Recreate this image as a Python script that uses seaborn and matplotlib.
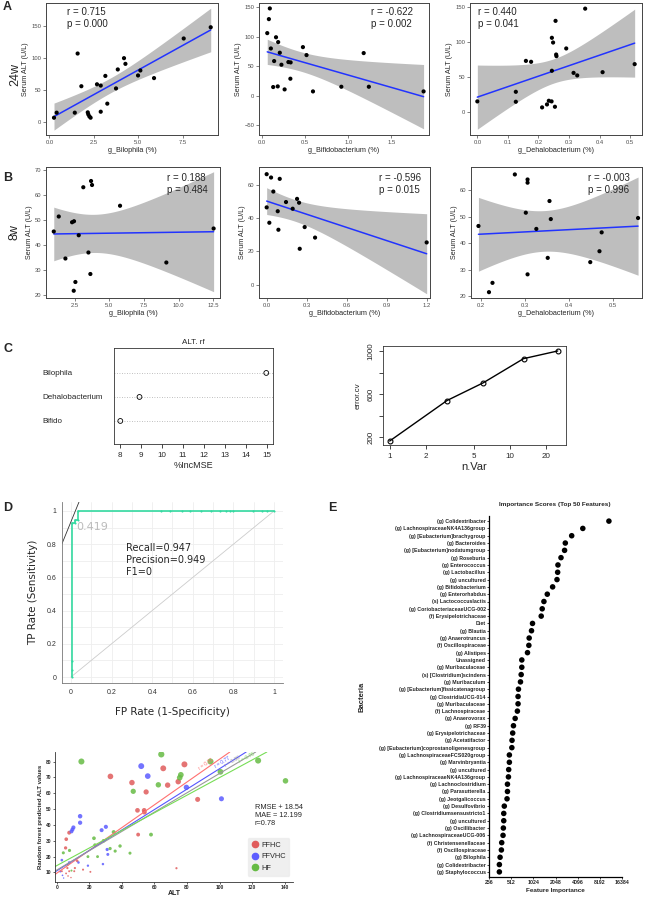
import numpy as np
import pandas as pd
import matplotlib
matplotlib.use("Agg")
import matplotlib.pyplot as plt
from matplotlib.lines import Line2D
from matplotlib.ticker import FormatStrFormatter, NullLocator
import seaborn as sns

sns.set_style("white")
plt.rcParams["font.family"] = ["Liberation Sans", "DejaVu Sans"]

# ---------------- data ----------------
# A / B: genus abundance (%) vs serum ALT
bilo24_x = [0.26, 0.41, 1.43, 1.59, 1.80, 2.16, 2.19, 2.25, 2.32, 2.68, 2.89, 2.89, 3.15, 3.26, 3.75, 3.85, 4.20, 4.28, 4.99, 5.12, 5.89, 7.56, 9.08]
bilo24_y = [7.2, 15.0, 15.0, 106.7, 56.0, 15.5, 12.4, 9.3, 7.2, 59.0, 57.0, 16.5, 72.0, 29.0, 52.6, 82.0, 99.5, 90.7, 72.7, 80.4, 68.6, 130.0, 147.4]
bifi24_x = [0.058, 0.077, 0.088, 0.100, 0.138, 0.160, 0.185, 0.204, 0.223, 0.127, 0.180, 0.304, 0.330, 0.327, 0.260, 0.473, 0.515, 0.590, 0.920, 1.180, 1.240, 1.877]
bifi24_y = [106.0, 129.7, 147.8, 80.0, 58.7, 99.0, 90.8, 72.8, 52.5, 14.7, 15.8, 57.0, 56.4, 28.8, 10.7, 82.3, 68.8, 7.3, 15.2, 72.2, 15.2, 7.3]
deha24_x = [0.000, 0.126, 0.126, 0.159, 0.176, 0.212, 0.228, 0.234, 0.243, 0.244, 0.244, 0.248, 0.254, 0.256, 0.258, 0.259, 0.291, 0.315, 0.327, 0.353, 0.410, 0.515]
deha24_y = [15.6, 29.2, 15.1, 73.0, 71.7, 7.1, 11.3, 16.5, 15.6, 59.0, 105.7, 99.0, 8.0, 129.7, 82.0, 79.7, 90.6, 56.0, 52.4, 147.0, 57.0, 68.4]
bilo8_x = [0.99, 1.35, 1.83, 2.31, 2.45, 2.79, 2.43, 2.55, 3.12, 3.49, 3.63, 3.68, 3.75, 5.77, 9.11, 12.52]
bilo8_y = [45.4, 51.4, 34.6, 49.1, 49.5, 43.9, 21.7, 25.2, 63.1, 37.0, 28.4, 65.6, 64.0, 55.7, 33.0, 46.6]
bifi8_x = [0.000, 0.020, 0.050, 0.083, 0.088, 0.145, 0.195, 0.228, 0.243, 0.248, 0.285, 0.363, 1.200, 0.000, 0.033, 0.098]
bifi8_y = [46.4, 37.2, 55.9, 44.1, 33.0, 49.6, 45.6, 51.5, 49.2, 21.6, 34.6, 28.3, 25.4, 66.3, 64.3, 63.5]
deha8_x = [0.194, 0.218, 0.226, 0.302, 0.306, 0.277, 0.306, 0.306, 0.326, 0.352, 0.356, 0.359, 0.449, 0.470, 0.475, 0.558]
deha8_y = [46.5, 21.6, 25.1, 51.5, 28.3, 65.9, 64.0, 62.8, 45.4, 34.5, 55.9, 49.1, 32.9, 37.0, 44.1, 49.5]
corr_xlabels = ["g_Bilophila (%)", "g_Bifidobacterium (%)", "g_Dehalobacterium (%)"] * 2
corr_r = ["0.715", "-0.622", "0.440", "0.188", "-0.596", "-0.003"]
corr_p = ["0.000", "0.002", "0.041", "0.484", "0.015", "0.996"]

# C: rf importance and rfcv
imp_names = ["Bifido", "Dehalobacterium", "Bilophila"]
imp_vals = [8.02, 8.93, 14.95]
nvar = [1, 3, 6, 13, 25]
error_cv = [166, 541, 705, 929, 1000]

# D: ROC
roc_fpr = [0.007, 0.007, 0.007, 0.007, 0.02, 0.02, 0.033, 0.033, 0.443, 0.488, 0.547, 0.586, 0.64, 0.688, 0.734, 0.762, 0.783, 0.80, 0.898, 0.94, 0.964, 1.0]
roc_tpr = [0.0, 0.04, 0.095, 0.93, 0.93, 0.947, 0.947, 1.0, 1.0, 1.0, 1.0, 1.0, 1.0, 1.0, 1.0, 1.0, 1.0, 1.0, 1.0, 1.0, 1.0, 1.0]
tangent_b, tangent_m = 0.935, 3.0

# D: predicted vs observed ALT
ffhc_alt = [73.5, 78.4, 65.4, 33.0, 46.2, 54.9, 68.1, 74.6, 49.6, 53.7, 53.9, 50.0, 86.5, 12.6, 16.2, 20.7, 7.7, 5.9, 5.5, 3.2, 5.8, 7.0, 8.8, 10.8, 11.2, 7.7, 6.6]
ffhc_pred = [12.7, 78.2, 75.7, 70.6, 66.7, 60.8, 65.1, 67.3, 49.2, 49.2, 48.0, 33.9, 56.1, 17.3, 11.8, 10.4, 35.1, 31.0, 25.5, 10.8, 9.4, 7.8, 6.8, 10.8, 12.8, 10.8, 12.8]
ffvhc_alt = [51.9, 55.9, 79.6, 101.1, 14.4, 14.4, 10.3, 9.7, 9.1, 30.2, 27.6, 31.0, 31.4, 28.4, 19.2, 3.2, 7.7, 3.6, 4.3, 13.4, 2.2]
ffvhc_pred = [77.1, 70.8, 63.7, 56.5, 45.5, 41.4, 38.4, 37.1, 35.9, 38.8, 36.7, 24.5, 21.4, 15.3, 14.3, 17.8, 16.3, 8.2, 6.5, 16.3, 10.6]
hf_alt = [15.2, 64.2, 47.0, 62.4, 76.2, 75.5, 94.4, 100.5, 123.6, 140.4, 57.9, 38.9, 35.9, 35.0, 32.8, 22.9, 19.2, 25.1, 45.0, 7.9, 6.7, 4.1, 9.1, 28.8, 23.5]
hf_pred = [80.0, 84.5, 61.2, 65.3, 71.6, 69.8, 80.0, 73.5, 80.6, 67.8, 33.9, 26.7, 23.5, 35.5, 25.1, 31.6, 20.0, 20.0, 22.2, 23.9, 14.9, 22.4, 11.2, 30.0, 27.3]
groups = ["FFHC", "FFVHC", "HF"]
fit_names = ["FFHC", "FFVHC", "all", "HF"]
fit_intercepts = [9.5, 11.0, 11.5, 14.3]
fit_slopes = [0.72, 0.645, 0.61, 0.556]
fit_r = ["r = 0.81", "r = 0.77", "r = 0.80", "r = 0.76"]
fit_label_x = [88, 98, 104, 113]

# E: importance scores
feat_names = ["(g) Colidextribacter", "(g) LachnospiraceaeNK4A136group", "(g) [Eubacterium]brachygroup",
              "(g) Bacteroides", "(g) [Eubacterium]nodatumgroup", "(g) Roseburia", "(g) Enterococcus",
              "(g) Lactobacillus", "(g) uncultured", "(g) Bifidobacterium", "(g) Enterorhabdus",
              "(s) Lactococcuslactis", "(g) CoriobacteriaceaeUCG-002", "(f) Erysipelotrichaceae", "Diet",
              "(g) Blautia", "(g) Anaerotruncus", "(f) Oscillospiraceae", "(g) Alistipes", "Unassigned",
              "(g) Muribaculaceae", "(s) [Clostridium]scindens", "(g) Muribaculum",
              "(g) [Eubacterium]fissicatenagroup", "(g) ClostridiaUCG-014", "(g) Muribaculaceae",
              "(f) Lachnospiraceae", "(g) Anaerovorax", "(g) RF39", "(g) Erysipelotrichaceae",
              "(g) Acetatifactor", "(g) [Eubacterium]coprostanoligenesgroup", "(g) LachnospiraceaeFCS020group",
              "(g) Marvinbryantia", "(g) uncultured", "(g) LachnospiraceaeNK4A136group", "(g) Lachnoclostridium",
              "(g) Parasutterella", "(g) Jeotgalicoccus", "(g) Desulfovibrio", "(g) Clostridiumsensustricto1",
              "(g) uncultured", "(g) Oscillibacter", "(g) LachnospiraceaeUCG-006", "(f) Christensenellaceae",
              "(f) Oscillospiraceae", "(g) Bilophila", "(g) Colidextribacter", "(g) Staphylococcus"]
feat_imp = [10880, 4810, 3398, 2783, 2720, 2432, 2211, 2190, 2146, 1872, 1584, 1426, 1351, 1310, 998,
            967, 899, 890, 853, 714, 714, 700, 685, 643, 635, 635, 622, 580, 550, 537, 526, 523, 484,
            484, 474, 470, 456, 456, 450, 413, 406, 406, 401, 397, 381, 377, 362, 354, 354]

# t quantiles (0.975) for the lm confidence band
T975 = {14: 2.145, 20: 2.086, 21: 2.080}

# ---------------- figure ----------------
W, H = 647, 899
fig = plt.figure(figsize=(W / 100, H / 100), dpi=100)


def add_ax(l, t, r, b):
    return fig.add_axes([l / W, 1 - b / H, (r - l) / W, (b - t) / H])


def ftext(x, y, s, **kw):
    fig.text(x / W, 1 - y / H, s, **kw)


def lm_band(ax, x, y):
    # ggplot-style geom_smooth(method = "lm") confidence band
    x = np.asarray(x, float)
    y = np.asarray(y, float)
    n = len(x)
    b, a = np.polyfit(x, y, 1)
    resid = y - (a + b * x)
    s = np.sqrt(np.sum(resid ** 2) / (n - 2))
    xs = np.linspace(x.min(), x.max(), 100)
    se = s * np.sqrt(1 / n + (xs - x.mean()) ** 2 / np.sum((x - x.mean()) ** 2))
    fit = a + b * xs
    t = T975.get(n - 2, 2.1)
    ax.fill_between(xs, fit - t * se, fit + t * se, color="#bebebe", lw=0, zorder=1)


# A / B correlation panels
corr_x = [bilo24_x, bifi24_x, deha24_x, bilo8_x, bifi8_x, deha8_x]
corr_y = [bilo24_y, bifi24_y, deha24_y, bilo8_y, bifi8_y, deha8_y]
boxes = [(46, 3, 218, 135), (259, 3, 429, 135), (470, 3, 642, 135),
         (46, 167, 220, 298), (259, 167, 430, 298), (471, 167, 642, 298)]
xlims = [(-0.19, 9.49), (-0.038, 1.94), (-0.024, 0.539), (0.43, 12.98), (-0.0575, 1.225), (0.177, 0.567)]
ylims = [(-19.6, 185), (-66.5, 157), (-32, 155), (18.8, 71.2), (-7.9, 70.6), (19.4, 68.7)]
xtks = [[0, 2.5, 5, 7.5], [0, 0.5, 1, 1.5], [0, 0.1, 0.2, 0.3, 0.4, 0.5],
        [2.5, 5, 7.5, 10, 12.5], [0, 0.3, 0.6, 0.9, 1.2], [0.2, 0.3, 0.4, 0.5]]
ytks = [[0, 50, 100, 150], [-50, 0, 50, 100, 150], [0, 50, 100, 150],
        [20, 30, 40, 50, 60, 70], [0, 20, 40, 60], [20, 30, 40, 50, 60]]
txt_pos = [(67, 7), (371, 7), (478, 7), (167, 173), (379, 173), (588, 173)]

for i in range(6):
    ax = add_ax(*boxes[i])
    df = pd.DataFrame({"x": corr_x[i], "y": corr_y[i]})
    lm_band(ax, corr_x[i], corr_y[i])
    sns.regplot(data=df, x="x", y="y", ax=ax, scatter=False, ci=None,
                color="#2233ff", line_kws={"lw": 1.1, "zorder": 2})
    sns.scatterplot(data=df, x="x", y="y", ax=ax, color="black", s=9,
                    edgecolor="none", zorder=3)
    ax.set_xlim(xlims[i])
    ax.set_ylim(ylims[i])
    ax.set_xticks(xtks[i])
    ax.set_yticks(ytks[i])
    ax.xaxis.set_major_formatter(FormatStrFormatter("%.1f"))
    ax.tick_params(labelsize=4.2, colors="#4d4d4d", length=2, width=0.5, pad=1.5)
    ax.tick_params(axis="both", which="both", bottom=True, left=True)
    for sp in ax.spines.values():
        sp.set_color("#444444")
        sp.set_linewidth(0.7)
    ax.set_xlabel(corr_xlabels[i], fontsize=5.2, labelpad=1.5)
    ax.set_ylabel("Serum ALT (U/L)", fontsize=5.2, labelpad=1.5)
    ftext(txt_pos[i][0], txt_pos[i][1], "r = " + corr_r[i] + "\np = " + corr_p[i],
          fontsize=7, va="top", ha="left")

ftext(15, 75, "24w", fontsize=9, rotation=90, va="center", ha="center")
ftext(15, 232, "8w", fontsize=9, rotation=90, va="center", ha="center")

# C left: dotchart of %IncMSE
ax = add_ax(114, 348, 273, 444)
for i in range(len(imp_names)):
    ax.axhline(i, color="#aaaaaa", ls=(0, (1, 2)), lw=0.6, zorder=0)
sns.scatterplot(x=imp_vals, y=list(range(len(imp_names))), ax=ax, marker="o", s=12,
                facecolor="none", edgecolor="black", linewidth=0.6, zorder=3)
ax.set_xlim(7.72, 15.27)
ax.set_ylim(-0.96, 3.04)
ax.set_xticks(range(8, 16))
ax.set_yticks(range(len(imp_names)))
ax.set_yticklabels(imp_names)
ax.tick_params(axis="y", length=0, pad=51.8, labelsize=5.8)
for lab in ax.get_yticklabels():
    lab.set_ha("left")
ax.tick_params(axis="x", bottom=True, length=3, width=0.6, labelsize=5.8, pad=3)
for sp in ax.spines.values():
    sp.set_color("#333333")
    sp.set_linewidth(0.6)
ax.set_title("ALT. rf", fontsize=5.8, pad=3)
ax.set_xlabel("%IncMSE", fontsize=6.5, labelpad=1)
ax.set_ylabel("")

# C right: rfcv error curve
ax = add_ax(383, 346, 566, 445)
sns.lineplot(x=nvar, y=error_cv, ax=ax, color="black", lw=1.0, marker="o", markersize=3.5,
             markerfacecolor="none", markeredgecolor="black", markeredgewidth=0.8)
ax.set_xscale("log")
ax.set_xlim(0.88, 29.3)
ax.set_ylim(129, 1046)
ax.xaxis.set_minor_locator(NullLocator())
ax.set_xticks([1, 2, 5, 10, 20])
ax.set_xticklabels(["1", "2", "5", "10", "20"])
ax.set_yticks([200, 400, 600, 800, 1000])
ax.set_yticklabels(["200", "", "600", "", "1000"], rotation=90, va="center")
ax.tick_params(bottom=True, left=True, length=3, width=0.6, labelsize=5.8, pad=3)
for sp in ax.spines.values():
    sp.set_color("#333333")
    sp.set_linewidth(0.6)
ax.set_xlabel("n.Var", fontsize=8, labelpad=1)
ax.set_ylabel("error.cv", fontsize=5.8, labelpad=4)

# D top: ROC curve
ax = add_ax(62, 502, 283, 683)
ax.set_xlim(-0.044, 1.044)
ax.set_ylim(-0.036, 1.054)
ax.set_xticks(np.arange(0, 1.01, 0.2))
ax.set_yticks(np.arange(0, 1.01, 0.2))
ax.set_xticks(np.arange(0, 1.01, 0.1), minor=True)
ax.set_yticks(np.arange(0, 1.01, 0.1), minor=True)
ax.set_xticklabels(["0", "0.2", "0.4", "0.6", "0.8", "1"])
ax.set_yticklabels(["0", "0.2", "0.4", "0.6", "0.8", "1"])
ax.grid(True, which="both", color="#eeeeee", lw=0.6)
ax.tick_params(which="both", length=0, labelsize=5, colors="#333333", pad=4)
for s in ["top", "right"]:
    ax.spines[s].set_visible(False)
for s in ["left", "bottom"]:
    ax.spines[s].set_color("#777777")
    ax.spines[s].set_linewidth(0.6)
ax.plot([0, 1], [0, 1], color="#cccccc", lw=0.6)
sns.lineplot(x=roc_fpr, y=roc_tpr, ax=ax, sort=False, estimator=None, color="#33d9a0",
             lw=1.2, marker="o", markersize=1.5, markeredgewidth=0)
ax.axline((0, tangent_b), slope=tangent_m, color="#333333", lw=0.6)
ax.text(0.028, 0.905, "0.419", fontsize=8, color="#bbbbbb", va="center", family="DejaVu Sans")
ax.text(0.27, 0.805, "Recall=0.947\nPrecision=0.949\nF1=0", fontsize=7, va="top",
        family="DejaVu Sans", linespacing=1.25)
ax.set_ylabel("TP Rate (Sensitivity)", fontsize=7.5, family="DejaVu Sans", labelpad=6)
ax.set_xlabel("FP Rate (1-Specificity)", fontsize=7.5, family="DejaVu Sans", labelpad=8)

# D bottom: predicted vs observed ALT
ax = add_ax(55, 752, 293, 882)
pred_df = pd.concat([
    pd.DataFrame({"alt": ffhc_alt, "pred": ffhc_pred, "group": "FFHC"}),
    pd.DataFrame({"alt": ffvhc_alt, "pred": ffvhc_pred, "group": "FFVHC"}),
    pd.DataFrame({"alt": hf_alt, "pred": hf_pred, "group": "HF"}),
])
grp_colors = {"FFHC": "#e05c5c", "FFVHC": "#5c5cff", "HF": "#66bb44"}
fit_colors = {"FFHC": "#ff7070", "FFVHC": "#5555ff", "all": "#999999", "HF": "#77dd55"}
sns.scatterplot(data=pred_df, x="alt", y="pred", hue="group", size="pred", sizes=(1, 20),
                palette=grp_colors, alpha=0.85, edgecolor="none", legend=False, ax=ax)
ax.set_xlim(-1, 145)
ax.set_ylim(4, 86)
ppx = 238 / 146
ppy = 130 / 82
for nm, b, m, lab, lx in zip(fit_names, fit_intercepts, fit_slopes, fit_r, fit_label_x):
    ax.axline((0, b), slope=m, color=fit_colors[nm], lw=0.8)
    ang = np.degrees(np.arctan(m * ppy / ppx))
    ax.text(lx, b + m * lx + 1.2, lab, color=fit_colors[nm], fontsize=3.5, rotation=ang,
            rotation_mode="anchor", ha="left", va="bottom")
ax.set_xticks(range(0, 141, 20))
ax.set_yticks(range(10, 81, 10))
ax.tick_params(bottom=True, left=True, length=1.5, width=0.5, labelsize=3.5, pad=1)
for lab in ax.get_xticklabels() + ax.get_yticklabels():
    lab.set_fontweight("bold")
for s in ["top", "right"]:
    ax.spines[s].set_visible(False)
for s in ["left", "bottom"]:
    ax.spines[s].set_color("#333333")
    ax.spines[s].set_linewidth(0.6)
ax.set_xlabel("ALT", fontsize=5, fontweight="bold", labelpad=0)
ax.set_ylabel("Random forest predicted ALT values", fontsize=4.3, fontweight="bold", labelpad=2)
ax.text(0.84, 0.6, "RMSE + 18.54\nMAE = 12.199\nr=0.78", transform=ax.transAxes,
        fontsize=5.3, va="top", ha="left", linespacing=1.2)
handles = [Line2D([], [], ls="", marker="o", markersize=4.5, color=grp_colors[g]) for g in groups]
ax.legend(handles, groups, loc="lower right", bbox_to_anchor=(1.0, 0.02), fontsize=5.3,
          frameon=True, facecolor="#ececec", edgecolor="#ececec", handletextpad=0.3,
          labelspacing=0.6, borderpad=0.5, handlelength=1.0)

# E: importance scores
ax = add_ax(489, 516, 622, 877)
rows = list(range(len(feat_names)))
sns.scatterplot(x=feat_imp, y=rows, ax=ax, color="black", s=16, edgecolor="none", zorder=3)
ax.set_xscale("log", base=2)
ax.set_xlim(256, 16384)
ax.set_ylim(len(feat_names) - 0.3, -0.7)
ax.xaxis.set_minor_locator(NullLocator())
e_ticks = [256, 512, 1024, 2048, 4096, 8192, 16384]
ax.set_xticks(e_ticks)
ax.set_xticklabels([str(t) for t in e_ticks])
ax.set_yticks(rows)
ax.set_yticklabels(feat_names)
ax.tick_params(bottom=True, left=True, length=1.5, width=0.6, labelsize=3.8, pad=1)
for lab in ax.get_xticklabels() + ax.get_yticklabels():
    lab.set_fontweight("bold")
for s in ["top", "right"]:
    ax.spines[s].set_visible(False)
for s in ["left", "bottom"]:
    ax.spines[s].set_color("black")
    ax.spines[s].set_linewidth(0.9)
ax.set_xlabel("Feature Importance", fontsize=4.6, fontweight="bold", labelpad=2)
ax.set_ylabel("Bacteria", fontsize=5.5, fontweight="bold", labelpad=0)
ax.yaxis.set_label_coords(-(489 - 365) / 133, 0.5)
ftext(555, 504, "Importance Scores (Top 50 Features)", fontsize=4.6, fontweight="bold",
      ha="center", va="center")

# panel letters
for lt, x, y in [("A", 3, 1), ("B", 3, 172), ("C", 3, 343), ("D", 3, 502), ("E", 328, 502)]:
    ftext(x, y, lt, fontsize=9, fontweight="bold", va="top", ha="left")

fig.savefig("out.png", dpi=100)
